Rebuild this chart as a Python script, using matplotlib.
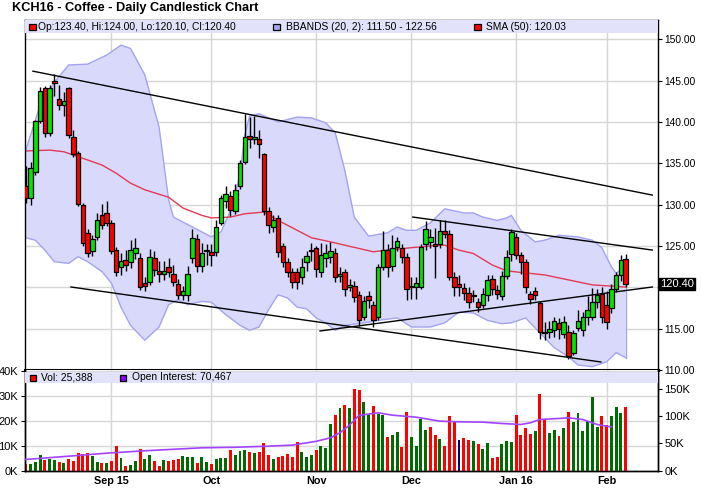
import matplotlib
matplotlib.use("Agg")
import matplotlib.pyplot as plt
from matplotlib.patches import Rectangle
import matplotlib.transforms as mtransforms
import numpy as np

plt.rcParams['font.family'] = ['Liberation Sans', 'DejaVu Sans']

# ---------------- data ----------------
opens = [132.3, 130.8, 134.0, 140.1, 144.1, 138.7, 144.9, 142.8, 142.0, 144.1,
         138.2, 136.3, 129.9, 126.6, 124.4, 126.1, 128.8, 129.0, 127.8, 124.5,
         122.5, 123.3, 123.1, 124.2, 123.6, 120.5, 120.7, 123.6, 122.0, 121.6,
         122.4, 121.6, 120.4, 119.1, 119.1, 123.6, 125.9, 122.6, 124.4, 124.3,
         124.3, 127.8, 130.5, 131.0, 129.2, 132.2, 135.2, 138.3, 138.0, 137.9,
         136.1, 129.2, 127.3, 128.4, 125.0, 123.1, 121.9, 121.9, 121.2, 123.1,
         124.4, 124.7, 121.9, 123.5, 123.7, 124.1, 121.4, 121.8, 120.1, 120.2,
         119.1, 116.4, 119.0, 117.9, 116.4, 122.5, 124.5, 122.6, 124.9, 124.7,
         123.7, 120.0, 120.1, 120.1, 125.2, 125.5, 125.2, 125.2, 126.8, 126.5,
         121.3, 120.4, 119.9, 119.3, 119.0, 118.2, 117.9, 119.1, 121.0, 119.7,
         119.0, 121.4, 124.0, 126.1, 123.9, 123.1, 119.2, 119.6, 118.1, 114.6,
         114.6, 114.8, 115.7, 114.4, 114.6, 112.1, 115.1, 114.8, 116.4, 116.4,
         118.2, 119.2, 117.9, 117.5, 119.8, 121.5, 123.4]
highs = [134.7, 135.2, 140.3, 144.2, 144.3, 144.5, 145.8, 144.5, 143.6, 144.2,
         139.0, 136.5, 130.2, 127.0, 126.3, 129.0, 130.1, 130.4, 128.2, 124.9,
         124.1, 124.5, 125.7, 126.0, 124.1, 121.2, 124.6, 124.4, 123.2, 123.2,
         123.6, 122.7, 121.0, 120.2, 122.6, 127.1, 126.5, 125.4, 125.3, 125.3,
         128.1, 131.2, 132.2, 131.7, 132.5, 135.4, 141.0, 140.6, 140.7, 139.0,
         136.3, 129.7, 128.7, 128.7, 125.4, 123.5, 122.3, 122.3, 123.5, 124.4,
         125.4, 125.0, 125.4, 125.2, 125.5, 124.8, 122.5, 122.2, 121.0, 120.8,
         119.6, 119.0, 119.6, 118.3, 122.8, 126.8, 125.3, 126.3, 126.1, 125.3,
         124.2, 121.2, 121.3, 125.3, 128.0, 127.0, 127.2, 128.1, 128.2, 126.9,
         121.9, 121.5, 120.5, 120.0, 119.7, 118.7, 119.9, 121.5, 121.5, 120.3,
         122.0, 124.5, 127.1, 126.6, 124.3, 123.4, 119.6, 120.0, 118.3, 115.8,
         115.9, 116.4, 116.3, 116.5, 115.4, 114.8, 117.2, 117.0, 118.9, 119.9,
         119.8, 120.0, 119.5, 120.4, 121.8, 123.9, 124.0]
lows = [130.2, 130.0, 133.6, 139.9, 138.2, 138.3, 143.1, 141.5, 140.7, 138.1,
        135.8, 129.8, 125.0, 123.7, 123.8, 125.7, 127.0, 127.4, 124.0, 121.4,
        121.5, 122.0, 122.3, 123.4, 119.7, 119.6, 120.3, 121.4, 120.6, 120.9,
        121.2, 120.2, 118.6, 118.5, 118.3, 123.0, 121.8, 121.8, 122.7, 122.6,
        123.8, 127.5, 129.6, 128.6, 128.9, 131.9, 134.9, 136.9, 137.3, 135.6,
        128.8, 126.6, 126.7, 123.7, 122.4, 121.3, 119.9, 119.8, 120.4, 122.0,
        123.2, 121.3, 121.3, 122.4, 123.0, 120.7, 120.6, 119.0, 119.5, 118.2,
        115.3, 116.0, 117.5, 115.2, 116.0, 122.1, 121.3, 122.0, 124.4, 122.9,
        118.5, 118.6, 118.6, 119.8, 124.5, 124.8, 121.1, 124.7, 126.0, 120.9,
        118.9, 119.0, 118.5, 117.5, 118.2, 117.0, 117.5, 118.3, 119.1, 118.6,
        118.5, 121.0, 123.2, 123.4, 121.6, 119.3, 118.0, 118.5, 113.8, 113.6,
        113.9, 114.0, 113.7, 113.9, 111.3, 111.8, 114.7, 114.1, 115.5, 116.0,
        117.5, 115.7, 115.0, 116.9, 119.4, 120.8, 120.1]
closes = [130.8, 134.4, 140.1, 143.8, 138.7, 144.1, 144.7, 142.1, 142.6, 138.4,
          136.1, 130.1, 125.4, 124.2, 125.8, 128.1, 127.6, 127.8, 124.4, 121.9,
          123.2, 122.7, 124.5, 124.7, 120.1, 120.2, 123.7, 122.1, 121.6, 122.0,
          121.9, 120.7, 119.1, 119.5, 121.6, 126.0, 122.6, 124.1, 124.45, 123.9,
          127.3, 130.8, 131.3, 129.4, 131.8, 135.0, 138.2, 138.0, 138.2, 137.3,
          129.2, 127.5, 128.2, 124.3, 123.1, 121.9, 120.7, 120.6, 122.5, 123.8,
          124.45, 122.2, 123.9, 124.1, 124.4, 121.3, 121.6, 119.8, 120.3, 118.8,
          116.1, 118.3, 118.5, 116.1, 122.4, 124.5, 122.5, 124.7, 125.6, 123.7,
          119.8, 120.1, 120.5, 124.9, 127.0, 126.1, 125.0, 126.8, 126.5, 121.3,
          120.1, 120.1, 119.3, 118.2, 119.05, 117.6, 119.2, 120.9, 119.8, 119.2,
          121.4, 123.7, 126.7, 123.9, 123.1, 120.1, 118.6, 119.1, 114.6, 114.5,
          114.9, 115.9, 115.0, 115.8, 111.7, 114.5, 115.9, 116.4, 117.2, 118.2,
          119.1, 116.4, 115.8, 119.8, 121.5, 123.3, 120.4]
volume_k = [2.8, 2.8, 3.3, 6.4, 4.4, 4.8, 4.4, 3.6, 3.2, 4.8,
            4.0, 7.2, 6.8, 7.2, 6.0, 3.6, 3.2, 3.2, 4.0, 10.0,
            5.2, 2.0, 2.4, 4.0, 8.8, 4.8, 6.4, 4.0, 2.0, 4.4,
            4.0, 4.4, 4.8, 6.0, 5.6, 5.6, 3.2, 5.6, 3.6, 2.8,
            4.8, 5.2, 5.2, 8.4, 6.4, 8.0, 8.4, 7.6, 7.2, 7.6,
            11.2, 6.4, 4.8, 5.6, 6.0, 6.8, 5.6, 11.6, 7.6, 5.6,
            6.4, 8.4, 10.0, 9.2, 18.8, 22.4, 25.0, 26.4, 25.0, 32.8,
            32.4, 27.6, 22.7, 26.0, 22.7, 22.1, 13.6, 14.3, 15.6, 9.6,
            23.6, 13.6, 10.0, 20.7, 16.4, 17.6, 14.4, 12.8, 10.0, 22.0,
            19.3, 12.3, 13.2, 12.3, 11.9, 10.8, 8.8, 11.1, 5.2, 5.6,
            10.8, 12.0, 11.6, 22.4, 14.4, 17.2, 14.8, 16.0, 30.8, 20.8,
            15.2, 16.4, 14.0, 17.2, 23.6, 19.6, 23.2, 16.0, 20.0, 29.6,
            17.6, 22.0, 18.4, 22.0, 25.6, 23.2, 25.388]

oi_day = [0, 9, 18, 26, 37, 44, 51, 56, 61, 64, 66, 68, 70, 74, 77, 82, 87, 91,
          96, 100, 104, 106, 108, 112, 114, 117, 120, 122, 123]
oi_k = [20.4, 26.5, 32.7, 37.0, 42.0, 43.0, 45.0, 47.0, 54.0, 60.5, 70.0, 84.0,
        102.0, 106.8, 102.4, 98.7, 91.3, 90.1, 89.5, 87.0, 85.2, 88.3, 94.4,
        96.3, 97.5, 94.4, 85.2, 82.0, 80.7]

bb_up_day = [0, 3, 6, 9, 13, 17, 20, 22, 25, 28, 30, 31, 35, 39, 41, 43, 45, 46,
             47, 49, 53, 57, 60, 63, 65, 67, 69, 72, 76, 78, 80, 82, 85, 88, 92,
             94, 96, 99, 101, 102, 104, 107, 109, 112, 116, 119, 121, 123, 124, 126]
bb_up = [136.6, 142.0, 144.8, 146.9, 147.0, 148.1, 149.3, 148.9, 145.7, 139.4,
         130.6, 128.5, 127.3, 126.1, 126.7, 129.3, 133.6, 138.4, 140.7, 141.0,
         140.0, 140.6, 140.5, 139.9, 138.7, 134.2, 128.5, 126.2, 126.6, 127.3,
         126.9, 126.9, 127.8, 129.5, 129.0, 129.0, 128.5, 128.1, 128.4, 128.7,
         126.9, 125.5, 125.7, 126.3, 126.1, 125.7, 124.8, 122.5, 121.7, 122.56]
bb_lo_day = [0, 2, 4, 6, 9, 11, 13, 16, 18, 20, 22, 25, 28, 30, 32, 34, 37, 39,
             42, 45, 47, 49, 51, 53, 55, 57, 59, 61, 63, 65, 67, 71, 74, 78, 81,
             85, 88, 91, 94, 97, 100, 102, 105, 108, 111, 114, 116, 119, 122, 124, 126]
bb_lo = [126.0, 125.7, 124.5, 123.1, 122.9, 123.7, 123.1, 121.9, 120.5, 117.6,
         115.4, 113.6, 115.2, 117.9, 118.5, 117.9, 118.3, 118.2, 116.7, 115.4,
         114.8, 115.2, 117.3, 119.1, 118.7, 117.6, 117.4, 116.3, 115.7, 114.8,
         115.4, 115.7, 116.0, 116.3, 115.2, 115.2, 115.7, 117.0, 116.9, 116.0,
         115.6, 115.7, 116.3, 114.5, 112.7, 111.6, 110.6, 110.4, 111.0, 112.1, 111.5]

sma_day = [0, 5, 8, 11, 16, 19, 22, 25, 30, 33, 37, 39, 43, 46, 50, 53, 57, 60,
           64, 67, 73, 76, 81, 85, 88, 91, 94, 98, 101, 104, 109, 114, 119, 126]
sma50 = [136.5, 136.6, 136.4, 135.8, 134.8, 133.8, 132.6, 131.8, 130.9, 129.6,
         128.7, 128.4, 128.5, 128.9, 129.1, 128.1, 126.9, 126.0, 125.5, 125.1,
         124.3, 124.5, 124.8, 125.0, 125.1, 124.5, 124.1, 122.7, 122.0, 121.8,
         121.5, 120.9, 120.3, 120.03]

trend_start_day = [1.5, 9.5, 61.8, 81.3]
trend_start_px = [146.15, 120.04, 114.72, 128.5]
trend_end_day = [131.6, 120.8, 131.6, 131.6]
trend_end_px = [131.16, 110.97, 120.04, 124.51]

date_tick_day = [18, 39, 61, 81, 103, 122]
date_tick_labels = ['Sep 15', 'Oct', 'Nov', 'Dec', 'Jan 16', 'Feb']
price_ticks = [110, 115, 120, 125, 130, 135, 140, 145, 150]
vol_ticks_k = [0, 10, 20, 30, 40]
oi_ticks_k = [0, 50, 100, 150]

title = 'KCH16 - Coffee - Daily Candlestick Chart'
legend_ohlc = 'Op:123.40, Hi:124.00, Lo:120.10, Cl:120.40'
legend_bb = 'BBANDS (20, 2): 111.50 - 122.56'
legend_sma = 'SMA (50): 120.03'
legend_vol = 'Vol: 25,388'
legend_oi = 'Open Interest: 70,467'
last_close_label = '120.40'

# ---------------- styling ----------------
W, H = 701, 494
FS = 7.4
GREEN = '#00e600'
RED = '#ff0000'
VGREEN = '#006b00'
NAVY = '#00006e'
GRID = '#d6d6d6'
BAND = '#e2e2fb'
BBFILL = '#d9d9fb'
BBEDGE = '#a3a3f2'

fig = plt.figure(figsize=(W / 100, H / 100), dpi=100)
fig.patch.set_facecolor('white')


def fx(px):
    return px / W


def fy(py):
    return 1 - py / H


L, R = 24.5, 658
ax = fig.add_axes([fx(L), fy(370), fx(R) - fx(L), fy(19.5) - fy(370)])
axv = fig.add_axes([fx(L), fy(470.5), fx(R) - fx(L), fy(370) - fy(470.5)])

n = len(closes)
days = np.arange(n)
xmin, xmax = -0.27, 132.8

# ---------------- main panel ----------------
ax.set_xlim(xmin, xmax)
ax.set_ylim(110, 152.4)
ax.set_yticks(price_ticks)
# the tick label nearest the last close is hidden behind the last-close box
ax.set_yticklabels(['' if abs(v - closes[-1]) < 1.5 else '%.2f' % v for v in price_ticks])
ax.yaxis.tick_right()
ax.tick_params(axis='y', direction='out', length=3, width=0.8, pad=1.5,
               labelsize=FS, colors='black')
ax.set_xticks(date_tick_day)
ax.tick_params(axis='x', length=0, labelbottom=False)
ax.grid(True, color=GRID, lw=1, zorder=0)
ax.set_axisbelow(True)
for s in ax.spines.values():
    s.set_color('black')
    s.set_linewidth(1)
ax.spines['bottom'].set_linewidth(2.2)

# bollinger band
poly_x = list(bb_up_day) + list(bb_lo_day[::-1])
poly_y = list(bb_up) + list(bb_lo[::-1])
ax.fill(poly_x, poly_y, facecolor=BBFILL, edgecolor='none', zorder=1)
ax.plot(bb_up_day, bb_up, color=BBEDGE, lw=1, zorder=1.5)
ax.plot(bb_lo_day, bb_lo, color=BBEDGE, lw=1, zorder=1.5)
ax.plot([bb_up_day[-1], bb_lo_day[-1]], [bb_up[-1], bb_lo[-1]], color=BBEDGE, lw=1, zorder=1.5)

# SMA
ax.plot(sma_day, sma50, color='#e33a55', lw=1, zorder=2)

# trend lines
for x0, y0, x1, y1 in zip(trend_start_day, trend_start_px, trend_end_day, trend_end_px):
    ax.plot([x0, x1], [y0, y1], color='black', lw=1, zorder=2.5)

# candles
o = np.array(opens)
c = np.array(closes)
hi = np.array(highs)
lo = np.array(lows)
ax.vlines(days, lo, hi, color='black', lw=1, zorder=3)
body_bottom = np.minimum(o, c)
body_h = np.maximum(np.abs(c - o), 0.12)
body_col = [GREEN if cc >= oo else RED for oo, cc in zip(o, c)]
ax.bar(days, body_h, width=0.95, bottom=body_bottom, color=body_col,
       edgecolor='black', linewidth=0.9, zorder=4)

# legend band (main)
band_h = 13 / 350.5
ax.add_patch(Rectangle((0, 1 - band_h), 1, band_h, transform=ax.transAxes,
                       facecolor=BAND, edgecolor='none', zorder=6, clip_on=False))


def legend_item(px, py, color, text, text_px):
    fig.patches.append(Rectangle((fx(px), fy(py + 3.5)), 6.5 / W, 6.5 / H,
                                 transform=fig.transFigure, facecolor=color,
                                 edgecolor='black', linewidth=0.9, zorder=10))
    fig.text(fx(text_px), fy(py), text, fontsize=FS, va='center', ha='left',
             color='black', zorder=10)


legend_item(29, 27, RED, legend_ohlc, 37.5)
legend_item(273, 27, '#a8a8f0', legend_bb, 285.5)
legend_item(474, 27, RED, legend_sma, 485.5)

# last close label
trans = mtransforms.blended_transform_factory(ax.transAxes, ax.transData)
ax.text(1.003, closes[-1], last_close_label, transform=trans, fontsize=FS + 0.6,
        color='white', va='center', ha='left', zorder=10, clip_on=False,
        bbox=dict(boxstyle='square,pad=0.12', facecolor='black', edgecolor='black'))

# ---------------- volume panel ----------------
vol = np.array(volume_k) * 1000
vcol = []
for i in range(n):
    if i == 0:
        vcol.append(RED if c[i] < o[i] else VGREEN)
    elif c[i] > c[i - 1]:
        vcol.append(VGREEN)
    elif c[i] < c[i - 1]:
        vcol.append(RED)
    else:
        vcol.append(NAVY)
axv.set_xlim(xmin, xmax)
axv.set_ylim(0, 40200)
axv.bar(days, vol, width=0.62, color=vcol, zorder=3)
axv.set_yticks([v * 1000 for v in vol_ticks_k])
axv.set_yticklabels(['%dK' % v for v in vol_ticks_k])
axv.tick_params(axis='y', direction='out', length=3, width=0.8, pad=1.5,
                labelsize=FS + 0.6)
axv.set_xticks(date_tick_day)
axv.set_xticklabels(date_tick_labels, fontweight='bold', fontsize=FS + 0.4)
axv.tick_params(axis='x', length=0, pad=4)
axv.grid(True, color=GRID, lw=1, zorder=0)
axv.set_axisbelow(True)
for s in axv.spines.values():
    s.set_color('black')
    s.set_linewidth(1)
axv.spines['top'].set_visible(False)

axo = axv.twinx()
axo.set_xlim(xmin, xmax)
axo.set_ylim(0, 186000)
axo.plot(oi_day, np.array(oi_k) * 1000, color='#a244ff', lw=1.2, zorder=4)
axo.set_yticks([v * 1000 for v in oi_ticks_k])
axo.set_yticklabels(['%dK' % v for v in oi_ticks_k])
axo.tick_params(axis='y', direction='out', length=3, width=0.8, pad=1.5,
                labelsize=FS + 0.6)
axo.spines['top'].set_visible(False)
for s in axo.spines.values():
    s.set_linewidth(1)

vband_top = (470.5 - 371.5) / 100.5
vband_bot = (470.5 - 383) / 100.5
axo.add_patch(Rectangle((0, vband_bot), 1, vband_top - vband_bot, transform=axo.transAxes,
                        facecolor=BAND, edgecolor='none', zorder=6, clip_on=False))
legend_item(29.5, 377.5, RED, legend_vol, 41)
legend_item(119.5, 377.5, '#8f00ff', legend_oi, 132)

fig.text(fx(11.5), fy(8.5), title, fontsize=9.2, fontweight='bold', va='center', ha='left')

fig.savefig('out.png', dpi=100, facecolor='white')
